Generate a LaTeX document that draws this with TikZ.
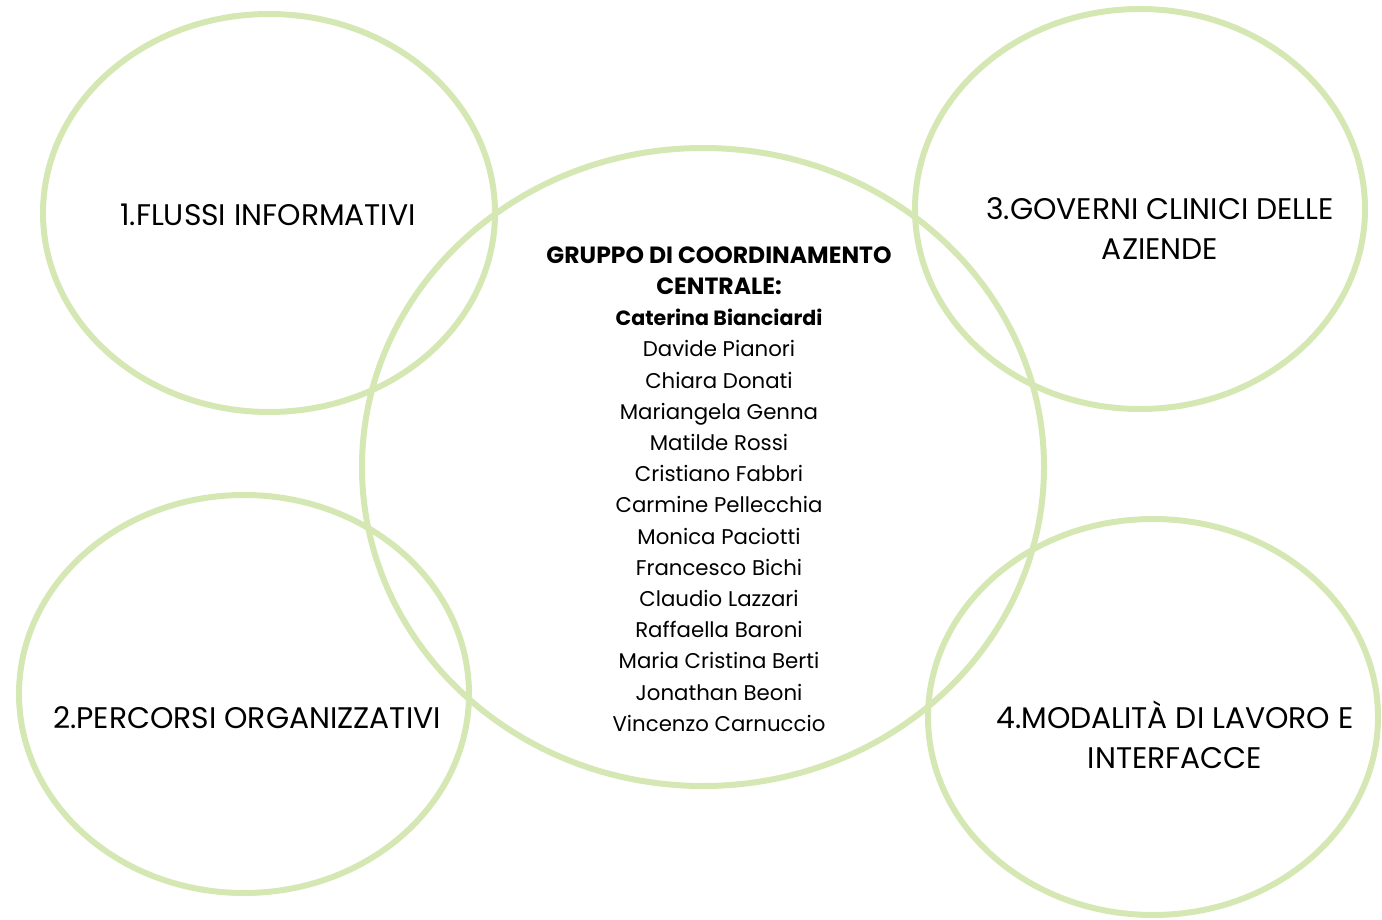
\documentclass[tikz,border=0pt]{standalone}
\usepackage{fontspec}
\setmainfont{Poppins}
\tikzset{
  ring/.style={draw=ringgreen, line width=6pt},
  big/.style={font=\fontsize{29.8}{40}\selectfont, align=center, text=black},
  list/.style={font=\fontsize{21.3}{31.2}\selectfont, align=center, text=black}
}
\definecolor{ringgreen}{RGB}{213,231,178}
\begin{document}
\begin{tikzpicture}[x=1pt,y=-1pt]
\useasboundingbox (0,0) rectangle (1382,920);
\draw[ring] (269,213) ellipse [x radius=226, y radius=199] node (e1) {};
\draw[ring] (244,694) ellipse [x radius=225, y radius=199] node (e2) {};
\draw[ring] (1140,209) ellipse [x radius=225, y radius=200] node (e3) {};
\draw[ring] (1153,717) ellipse [x radius=225, y radius=198] node (e4) {};
\draw[ring] (703,467) ellipse [x radius=341, y radius=319] node (e5) {};
\node[big] (t1) at (268,215) {1.FLUSSI INFORMATIVI};
\node[big] (t2) at (247,718) {2.PERCORSI ORGANIZZATIVI};
\node[big] (t3) at (1160,229) {3.GOVERNI CLINICI DELLE\\AZIENDE};
\node[big] (t4) at (1175,735) {4.MODALITÀ DI LAVORO E\\INTERFACCE};
\node[list, anchor=north] (t5) at (719,243) {{\fontsize{23.5}{31.2}\selectfont\bfseries GRUPPO DI COORDINAMENTO}\\{\fontsize{23.5}{31.2}\selectfont\bfseries CENTRALE:}\\{\fontsize{20.6}{31.2}\selectfont\bfseries Caterina Bianciardi}\\Davide Pianori\\Chiara Donati\\Mariangela Genna\\Matilde Rossi\\Cristiano Fabbri\\Carmine Pellecchia\\Monica Paciotti\\Francesco Bichi\\Claudio Lazzari\\Raffaella Baroni\\Maria Cristina Berti\\Jonathan Beoni\\Vincenzo Carnuccio};
\end{tikzpicture}
\end{document}
